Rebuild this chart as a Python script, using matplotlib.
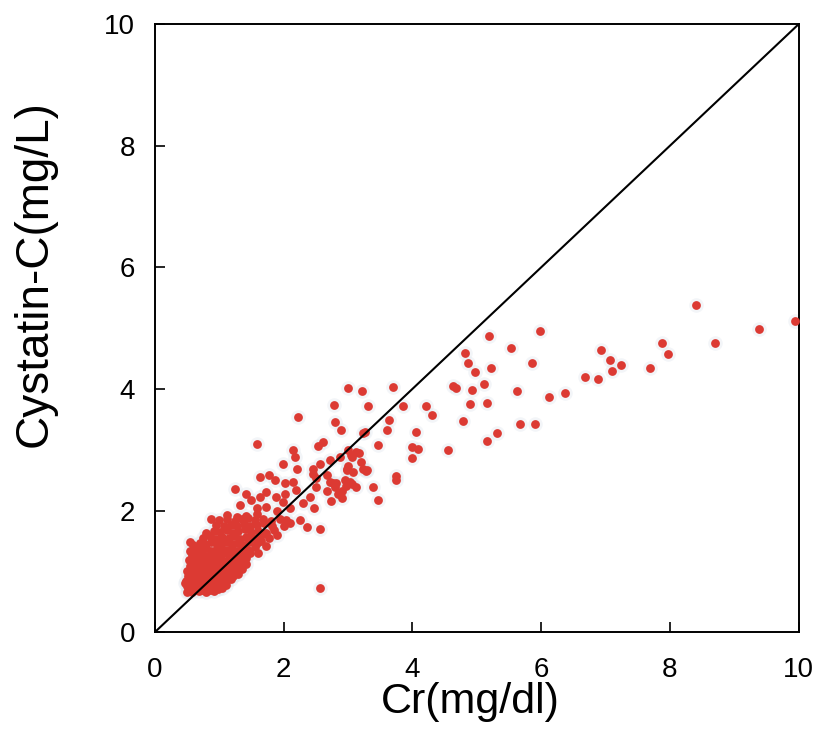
"""
Cystatin-C vs creatinine scatter with identity line
"""
import matplotlib.pyplot as plt

# dense cluster, Cr < ~2
low_cr = [0.52, 0.58, 0.63, 0.68, 0.74, 0.80, 0.86, 0.92, 0.98, 1.05,
          0.50, 0.55, 0.62, 0.70, 0.76, 0.84, 0.90, 0.97, 1.04, 1.10,
          0.49, 0.56, 0.63, 0.69, 0.76, 0.82, 0.89, 0.95, 1.02, 1.10, 1.18,
          0.52, 0.58, 0.65, 0.72, 0.79, 0.86, 0.93, 1.00, 1.07, 1.14, 1.22, 1.30,
          0.50, 0.57, 0.64, 0.71, 0.78, 0.85, 0.92, 0.99, 1.06, 1.13, 1.20, 1.28, 1.36,
          0.55, 0.62, 0.69, 0.76, 0.83, 0.90, 0.97, 1.04, 1.11, 1.18, 1.26, 1.34, 1.41,
          0.53, 0.60, 0.68, 0.75, 0.82, 0.89, 0.96, 1.03, 1.10, 1.18, 1.25, 1.33, 1.42,
          0.58, 0.66, 0.73, 0.80, 0.88, 0.95, 1.02, 1.10, 1.17, 1.25, 1.33, 1.40, 1.48,
          0.55, 0.64, 0.72, 0.80, 0.87, 0.95, 1.03, 1.11, 1.19, 1.27, 1.35, 1.45, 1.55,
          0.60, 0.70, 0.78, 0.88, 0.97, 1.05, 1.13, 1.22, 1.30, 1.38, 1.47, 1.58,
          0.75, 0.85, 0.95, 1.05, 1.15, 1.25, 1.33, 1.42, 1.52, 1.62,
          0.80, 0.92, 1.02, 1.12, 1.22, 1.30, 1.40, 1.50, 1.60, 1.72,
          0.95, 1.08, 1.18, 1.28, 1.38, 1.48, 1.58, 1.70, 1.82,
          0.88, 1.00, 1.12, 1.25, 1.35, 1.45, 1.55, 1.68, 1.80, 1.95,
          0.54, 0.65, 0.47, 0.50,
          1.65, 1.72, 1.78, 1.60, 1.68, 1.85, 1.90, 2.00, 2.10]
low_cysc = [0.68, 0.66, 0.70, 0.67, 0.69, 0.66, 0.70, 0.68, 0.71, 0.72,
            0.76, 0.79, 0.75, 0.78, 0.74, 0.77, 0.80, 0.76, 0.79, 0.77,
            0.85, 0.83, 0.87, 0.84, 0.88, 0.83, 0.86, 0.84, 0.88, 0.85, 0.87,
            0.93, 0.90, 0.94, 0.91, 0.95, 0.92, 0.90, 0.94, 0.91, 0.95, 0.92, 0.96,
            1.01, 0.99, 1.03, 1.00, 1.02, 0.99, 1.03, 1.00, 1.02, 0.99, 1.03, 1.01, 1.04,
            1.09, 1.07, 1.10, 1.08, 1.11, 1.07, 1.10, 1.08, 1.12, 1.09, 1.07, 1.11, 1.13,
            1.18, 1.16, 1.20, 1.17, 1.19, 1.15, 1.18, 1.21, 1.17, 1.20, 1.16, 1.19, 1.22,
            1.27, 1.25, 1.29, 1.26, 1.28, 1.24, 1.27, 1.30, 1.26, 1.29, 1.25, 1.28, 1.31,
            1.34, 1.37, 1.35, 1.38, 1.33, 1.36, 1.39, 1.35, 1.37, 1.34, 1.38, 1.36, 1.40,
            1.44, 1.47, 1.45, 1.48, 1.43, 1.46, 1.49, 1.45, 1.47, 1.44, 1.48, 1.46,
            1.55, 1.58, 1.54, 1.57, 1.55, 1.59, 1.54, 1.57, 1.55, 1.58,
            1.64, 1.67, 1.65, 1.68, 1.63, 1.66, 1.69, 1.65, 1.67, 1.64,
            1.76, 1.74, 1.77, 1.75, 1.78, 1.74, 1.76, 1.79, 1.75,
            1.86, 1.84, 1.87, 1.83, 1.86, 1.88, 1.84, 1.86, 1.83, 1.87,
            1.49, 1.40, 0.81, 0.66,
            1.50, 1.42, 1.55, 1.30, 1.62, 1.68, 1.60, 1.75, 1.80]

# Cr between ~1 and ~4.5
mid_cr = [1.59, 2.14, 2.18, 1.99, 1.63, 1.78, 1.86, 2.02, 2.15, 1.25, 1.42, 1.50,
          1.63, 1.72, 1.88, 2.02, 1.99, 2.20, 2.41, 2.51, 2.67, 2.80, 2.91, 3.13,
          1.32, 1.58, 1.73, 1.90, 2.10, 2.31, 2.48, 2.74, 1.12, 1.28, 1.42, 1.58,
          2.04, 2.25, 2.36, 2.56, 2.56, 2.61, 2.53, 2.80, 2.90, 3.23, 3.13, 3.05,
          2.72, 2.87, 2.56, 2.46, 2.98, 3.03, 3.29, 2.22, 2.21, 3.00, 3.08, 2.46,
          2.51, 2.67, 2.72, 2.82, 3.00, 3.22, 3.70, 2.78, 3.31, 3.86, 4.22, 4.31,
          3.64, 3.61, 4.05, 3.26, 3.47, 4.00, 4.09, 4.00, 4.55, 3.75, 3.75, 3.00,
          3.07, 3.17, 3.20, 3.23, 3.28, 2.99, 3.39, 3.47, 2.77, 2.85, 2.95, 2.97,
          3.07, 2.91]
mid_cysc = [3.10, 3.00, 2.89, 2.77, 2.55, 2.58, 2.50, 2.45, 2.47, 2.36, 2.27, 2.17,
            2.22, 2.31, 2.22, 2.27, 2.14, 2.34, 2.22, 2.39, 2.33, 2.39, 2.33, 2.39,
            2.09, 2.05, 2.06, 2.00, 2.05, 2.12, 2.05, 2.16, 1.93, 1.90, 1.92, 1.94,
            1.84, 1.84, 1.73, 1.70, 0.72, 3.13, 3.06, 3.46, 3.32, 3.27, 2.96, 2.91,
            2.83, 2.88, 2.77, 2.68, 2.67, 2.47, 2.67, 3.54, 2.69, 2.73, 2.64, 2.61,
            2.53, 2.58, 2.47, 2.45, 4.01, 3.97, 4.03, 3.74, 3.72, 3.72, 3.72, 3.58,
            3.49, 3.32, 3.30, 3.29, 3.08, 3.04, 3.02, 2.87, 2.99, 2.57, 2.50, 2.99,
            2.89, 2.95, 2.80, 2.69, 2.66, 2.69, 2.39, 2.18, 2.45, 2.28, 2.50, 2.40,
            2.44, 2.20]

# Cr above ~4.5
high_cr = [4.63, 4.68, 4.97, 5.12, 4.92, 4.89, 5.16, 4.79, 5.16, 5.19, 5.98, 5.53,
           4.82, 4.87, 5.22, 5.86, 5.63, 6.13, 6.38, 5.67, 5.90, 5.31, 8.40, 9.94,
           9.39, 8.70, 7.88, 7.97, 6.93, 7.07, 7.25, 7.11, 7.70, 6.69, 6.88]
high_cysc = [4.05, 4.02, 4.28, 4.08, 3.98, 3.75, 3.77, 3.47, 3.14, 4.87, 4.95, 4.67,
             4.59, 4.43, 4.34, 4.43, 3.96, 3.87, 3.94, 3.42, 3.42, 3.28, 5.38, 5.12,
             4.98, 4.75, 4.75, 4.57, 4.65, 4.48, 4.39, 4.29, 4.34, 4.20, 4.16]

ticks = [0, 2, 4, 6, 8, 10]

cr = low_cr + mid_cr + high_cr
cysc = low_cysc + mid_cysc + high_cysc

fig = plt.figure(figsize=(8.19, 7.36), dpi=100)
ax = fig.add_axes([0.189, 0.141, 0.786, 0.826])

# faint halo then the red dots
ax.scatter(cr, cysc, s=110, color='#dde4ec', alpha=0.35, linewidths=0, zorder=2)
ax.scatter(cr, cysc, s=40, color='#dc3a33', linewidths=0, zorder=3)
ax.plot([0, 10], [0, 10], color='black', lw=1.5, zorder=4)

ax.set_xlim(0, 10)
ax.set_ylim(0, 10)
ax.set_xticks(ticks)
ax.set_yticks(ticks)
ax.tick_params(direction='in', length=7, width=1.2, labelsize=20)
ax.tick_params(axis='y', pad=14)
ax.tick_params(axis='x', pad=18)
for lab in ax.get_xticklabels() + ax.get_yticklabels():
    lab.set_family(['Liberation Sans', 'DejaVu Sans'])
for sp in ax.spines.values():
    sp.set_linewidth(1.4)

ax.set_xlabel('Cr(mg/dl)', fontsize=31, family=['Liberation Sans', 'DejaVu Sans'], va='center')
ax.set_ylabel('Cystatin-C(mg/L)', fontsize=33, family=['Liberation Sans', 'DejaVu Sans'], va='center')
ax.xaxis.set_label_coords(0.49, -0.115)
ax.yaxis.set_label_coords(-0.186, 0.59)

plt.savefig('out.png', dpi=100)
